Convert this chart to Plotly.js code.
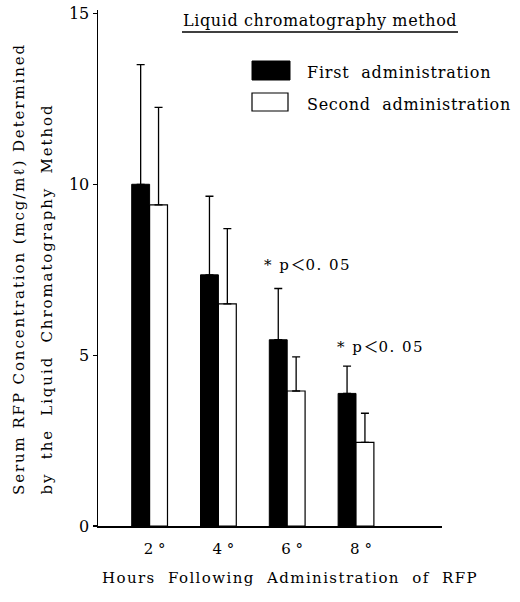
<!DOCTYPE html>
<html>
<head>
<meta charset="utf-8">
<script src="https://cdn.plot.ly/plotly-3.0.1.min.js"></script>
<style>
  html, body { margin: 0; padding: 0; background: #fff; }
  #chart { width: 520px; height: 602px; }
</style>
</head>
<body>
<div id="chart"></div>
<script>
// Serum RFP concentration after the first and second administration
const hours = [2, 4, 6, 8];
const hourLabels = ['2 °', '4 °', '6 °', '8 °'];
const firstMean = [10.0, 7.35, 5.45, 3.88];
const firstSD = [3.5, 2.3, 1.5, 0.8];
const secondMean = [9.4, 6.5, 3.95, 2.45];
const secondSD = [2.85, 2.2, 1.0, 0.85];
const seriesNames = ['First  administration', 'Second  administration'];
const noLower = [0, 0, 0, 0];

const FONT = 'DejaVu Serif, Liberation Serif, serif';

// page geometry (pixels) and helpers to place decorations in paper space
const W = 520, H = 602, ML = 98, MR = 78, MT = 10, MB = 76;
const PW = W - ML - MR, PH = H - MT - MB;
const fx = px => (px - ML) / PW;
const fy = py => (H - MB - py) / PH;

// widely set type: keep double spaces and add tracking
const spaced = (s, ls) =>
  '<span style="letter-spacing:' + ls + 'px">' + s.replace(/ /g, '\u00A0') + '</span>';
const pLabel = spaced('* p', 1.5) +
  '<span style="font-family:\'Noto Sans CJK JP\'">＜</span>' + spaced('0. 05', 1.5);

const errStyle = (sd) => ({
  type: 'data', symmetric: false, array: sd, arrayminus: noLower,
  color: '#000', thickness: 1.3, width: 4, visible: true
});

const traces = [
  {
    type: 'bar', name: seriesNames[0], x: hours, y: firstMean,
    marker: { color: '#000', line: { color: '#000', width: 1 } },
    error_y: errStyle(firstSD), showlegend: false
  },
  {
    type: 'bar', name: seriesNames[1], x: hours, y: secondMean,
    marker: { color: '#fff', line: { color: '#000', width: 1.2 } },
    error_y: errStyle(secondSD), showlegend: false
  }
];

const txt = (text, x, y, opts = {}) => Object.assign({
  text, x: fx(x), y: fy(y), xref: 'paper', yref: 'paper',
  showarrow: false, xanchor: 'center', yanchor: 'middle',
  font: { family: FONT, size: 15, color: '#000' }
}, opts);

const layout = {
  width: W, height: H,
  margin: { l: ML, r: MR, t: MT, b: MB, pad: 0 },
  paper_bgcolor: '#fff', plot_bgcolor: '#fff',
  barmode: 'group', bargap: 0.48, bargroupgap: 0,
  font: { family: FONT, size: 15, color: '#000' },
  xaxis: {
    range: [0.5, 10.5], tickvals: hours, ticktext: hourLabels,
    showline: true, linecolor: '#000', linewidth: 1.5,
    showgrid: false, zeroline: false, ticks: '',
    ticklabelstandoff: 8, ticklabelshift: 5,
    tickfont: { family: FONT, size: 15 }
  },
  yaxis: {
    range: [0, 15.1], tickvals: [0, 5, 10, 15],
    showline: true, linecolor: '#000', linewidth: 1.5,
    showgrid: false, zeroline: false,
    ticks: 'outside', ticklen: 4, tickwidth: 1.2, tickcolor: '#000',
    tickfont: { family: FONT, size: 16 }
  },
  shapes: [
    // underline of the heading
    { type: 'line', xref: 'paper', yref: 'paper',
      x0: fx(182), x1: fx(458), y0: fy(32), y1: fy(32),
      line: { color: '#000', width: 1.5 } },
    // legend swatches
    { type: 'rect', xref: 'paper', yref: 'paper',
      x0: fx(252), x1: fx(290), y0: fy(80), y1: fy(61),
      fillcolor: '#000', line: { color: '#000', width: 1 } },
    { type: 'rect', xref: 'paper', yref: 'paper',
      x0: fx(252), x1: fx(288), y0: fy(111), y1: fy(93),
      fillcolor: '#fff', line: { color: '#000', width: 1.2 } }
  ],
  annotations: [
    txt(spaced('Liquid chromatography method', 0.6), 320, 20, { font: { family: FONT, size: 16, color: '#000' } }),
    txt(spaced(seriesNames[0], 0.8), 305, 72, { xanchor: 'left', font: { family: FONT, size: 16, color: '#000' } }),
    txt(spaced(seriesNames[1], 0.7), 305, 104, { xanchor: 'left', font: { family: FONT, size: 16, color: '#000' } }),
    txt(pLabel, 307, 263),
    txt(pLabel, 380, 345),
    txt(spaced('Serum RFP Concentration (mcg/mℓ) Determined', 1.9), 19, 497, { textangle: -90, yanchor: 'bottom' }),
    txt(spaced('by  the  Liquid  Chromatography  Method', 1.9), 46, 497, { textangle: -90, yanchor: 'bottom' }),
    txt(spaced('Hours  Following  Administration  of  RFP', 1.4), 290, 578)
  ]
};

Plotly.newPlot('chart', traces, layout, { displayModeBar: false, staticPlot: true });
</script>
</body>
</html>
